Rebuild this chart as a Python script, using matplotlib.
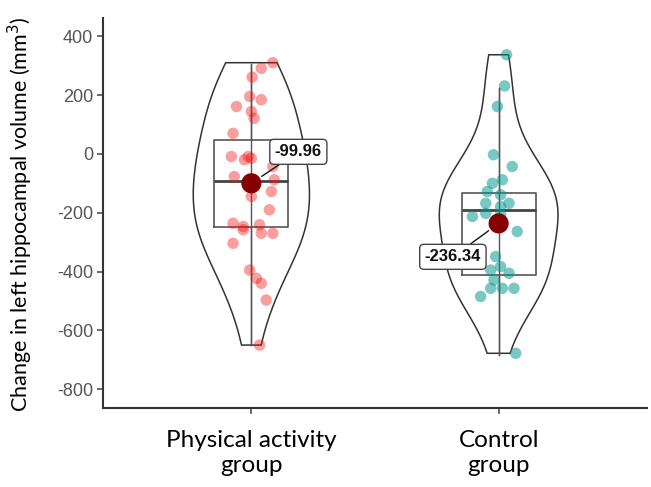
import matplotlib.pyplot as plt
import numpy as np

plt.rcParams['axes.unicode_minus'] = False

# Data
groups = ['Physical activity\ngroup', 'Control\ngroup']

pa_values = [310, 291, 261, 195, 184, 161, 144, 121, 70, -9, -9, -15, -20, -43, -77, -88,
             -128, -145, -190, -236, -247, -241, -270, -270, -258, -304, -395, -423, -440,
             -497, -650]
pa_jitter = [0.087, 0.04, 0.003, -0.007, 0.04, -0.06, 0.0, 0.011, -0.074, -0.081, -0.013,
             0.0, -0.028, 0.087, -0.069, 0.093, 0.081, 0.0, 0.073, -0.074, -0.033, 0.033,
             0.04, 0.087, -0.033, -0.074, -0.007, 0.02, 0.04, 0.06, 0.033]

ctrl_values = [337, 231, 161, -3, -43, -88, -100, -128, -139, -168, -168, -179, -202, -207,
               -213, -264, -349, -383, -395, -406, -429, -457, -457, -457, -485, -678]
ctrl_jitter = [0.032, 0.024, -0.005, -0.021, 0.055, 0.015, -0.025, -0.046, 0.008, -0.052,
               0.042, 0.008, -0.052, 0.008, -0.106, 0.075, -0.012, 0.008, -0.032, 0.042,
               -0.019, -0.032, 0.015, 0.062, -0.073, 0.069]

# box summaries: whisker low, Q1, median, Q3, whisker high
box_whislo = [-650, -684]
box_q1 = [-250, -412]
box_med = [-92, -190]
box_q3 = [48, -134]
box_whishi = [305, 223]

means = [-99.96, -236.34]

fig = plt.figure(figsize=(6.51, 4.87), dpi=100)
ax = fig.add_axes([103 / 651, 1 - 408 / 487, 544 / 651, 390 / 487])

positions = [1, 2]
all_vals = [pa_values, ctrl_values]
all_jit = [pa_jitter, ctrl_jitter]
pt_colors = [(0.96, 0.05, 0.05), (0.0, 0.59, 0.55)]
pt_alpha = [0.4, 0.52]

# violins (outline only)
vp = ax.violinplot(all_vals, positions=positions, widths=[0.47, 0.48],
                   showextrema=False, bw_method=0.55)
for body in vp['bodies']:
    body.set_facecolor('none')
    body.set_edgecolor('#333333')
    body.set_linewidth(1.1)
    body.set_alpha(1)

# whisker line drawn straight through the box
for i, p in enumerate(positions):
    ax.plot([p, p], [box_whislo[i], box_whishi[i]], color='#555555', lw=1.0, zorder=2)

stats = []
for i in range(2):
    stats.append(dict(whislo=box_whislo[i], q1=box_q1[i], med=box_med[i],
                      q3=box_q3[i], whishi=box_whishi[i], fliers=[]))
ax.bxp(stats, positions=positions, widths=0.3, showfliers=False, showcaps=False,
       patch_artist=False,
       boxprops=dict(color='#555555', lw=1.2),
       whiskerprops=dict(color='#555555', lw=1.0),
       medianprops=dict(color='#444444', lw=2.0), manage_ticks=False)

# jittered points
for i, p in enumerate(positions):
    x = p + np.array(all_jit[i])
    ax.scatter(x, all_vals[i], s=68, color=pt_colors[i], alpha=pt_alpha[i],
               edgecolors='none', zorder=3)

# mean points
ax.scatter(positions, means, s=210, color='#850000', zorder=5, edgecolors='none')

# mean labels
label_pos = [(1.19, 7), (1.815, -350)]
for i, p in enumerate(positions):
    ax.annotate(f'{means[i]:.2f}', xy=(p, means[i]), xytext=label_pos[i],
                ha='center', va='center', fontsize=12, fontweight='bold',
                family='Liberation Sans', color='#111111', zorder=6,
                bbox=dict(boxstyle='round,pad=0.3,rounding_size=0.25', fc='white',
                          ec='#444444', lw=1.0),
                arrowprops=dict(arrowstyle='-', color='#111111', lw=1.0,
                                shrinkA=0, shrinkB=9))

ax.set_xlim(0.4, 2.6)
ax.set_ylim(-864, 462)
ax.set_yticks([400, 200, 0, -200, -400, -600, -800])
ax.set_xticks(positions)
ax.set_xticklabels(groups, fontsize=17.5, family='Lato', color='black', linespacing=1.2)
for lab in ax.get_yticklabels():
    lab.set_family('Liberation Sans')
    lab.set_fontsize(13)
    lab.set_color('#555555')

ax.tick_params(axis='both', length=4, width=1.1, color='#444444')
ax.tick_params(axis='y', pad=3)
ax.tick_params(axis='x', pad=12)
ax.set_ylabel('Change in left hippocampal volume (mm$^3$)', fontsize=15.5, family='Lato')
ax.yaxis.set_label_coords(-68 / 544, (408 - 214) / 390)

for side in ['top', 'right']:
    ax.spines[side].set_visible(False)
for side in ['left', 'bottom']:
    ax.spines[side].set_color('#333333')
    ax.spines[side].set_linewidth(1.5)

fig.savefig('out.png', dpi=100)
